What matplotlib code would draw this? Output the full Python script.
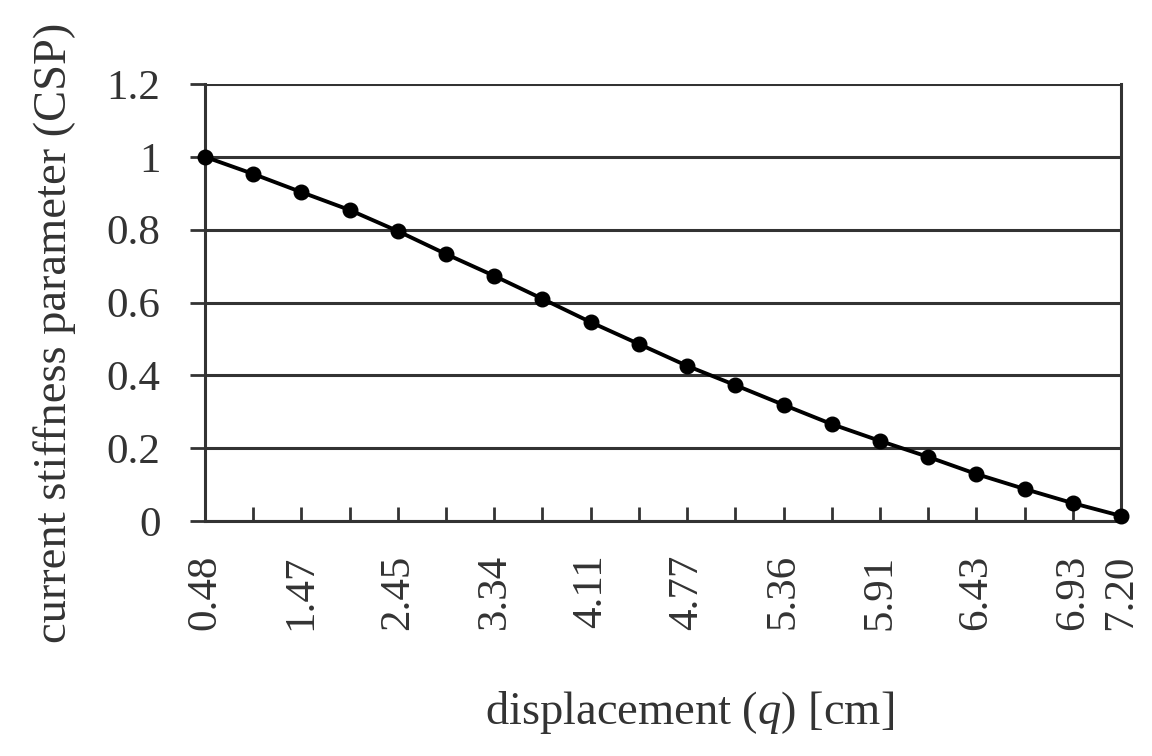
import matplotlib
matplotlib.use("Agg")
import matplotlib.pyplot as plt

# displacement steps (categorical x axis) and current stiffness parameter
displacement = ["0.48", "", "1.47", "", "2.45", "", "3.34", "", "4.11", "",
                "4.77", "", "5.36", "", "5.91", "", "6.43", "", "6.93", "7.20"]
csp = [1.0, 0.953, 0.903, 0.854, 0.796, 0.733, 0.673, 0.610, 0.546, 0.486,
       0.426, 0.373, 0.319, 0.266, 0.220, 0.176, 0.129, 0.088, 0.049, 0.014]
y_ticks = [0, 0.2, 0.4, 0.6, 0.8, 1.0, 1.2]
y_tick_labels = ["0", "0.2", "0.4", "0.6", "0.8", "1", "1.2"]

plt.rcParams["font.family"] = ["Liberation Serif", "DejaVu Serif"]
plt.rcParams["mathtext.fontset"] = "custom"
plt.rcParams["mathtext.it"] = "Liberation Serif:italic"
plt.rcParams["mathtext.rm"] = "Liberation Serif"

fig = plt.figure(figsize=(11.52, 7.56), dpi=100)
ax = fig.add_axes([205 / 1152, 1 - 521 / 756, (1121 - 205) / 1152, (521 - 84) / 756])

x = list(range(len(csp)))
ax.plot(x, csp, color="black", lw=2.8, marker="o", ms=10.5, zorder=3, clip_on=False)

ax.set_xlim(0, len(csp) - 1)
ax.set_ylim(0, 1.2)

ax.set_yticks(y_ticks)
ax.set_yticklabels(y_tick_labels, fontsize=31, color="#333333")
ax.yaxis.grid(True, color="#333333", lw=2.2)
ax.set_axisbelow(True)

ax.set_xticks(x)
ax.set_xticklabels(displacement, rotation=90, fontsize=31, color="#333333")

ax.tick_params(axis="y", direction="out", length=11, width=2, color="#333333", pad=21)
ax.tick_params(axis="x", direction="in", length=10, width=2, color="#333333", pad=24)

for side in ["left", "right", "bottom"]:
    ax.spines[side].set_color("#333333")
    ax.spines[side].set_linewidth(2.2)
ax.spines["top"].set_visible(False)

fig.text(55 / 1152, 1 - 333 / 756, "current stiffness parameter (CSP)",
         rotation=90, ha="center", va="center", fontsize=33.5, color="#333333")
fig.text(690 / 1152, 1 - 713 / 756, "displacement ($q$) [cm]",
         ha="center", va="center", fontsize=33.5, color="#333333")

fig.savefig("out.png", dpi=100)
